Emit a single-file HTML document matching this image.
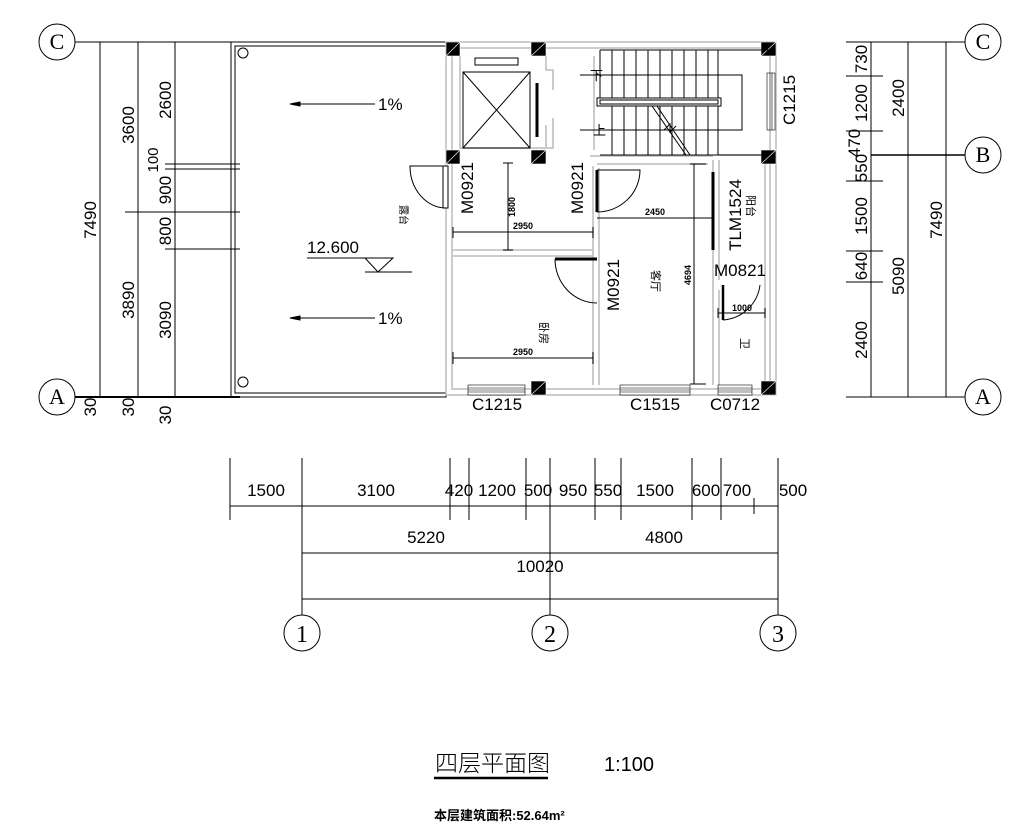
<!DOCTYPE html>
<html><head><meta charset="utf-8"><style>
html,body{margin:0;padding:0;background:#fff;}
svg{display:block;font-family:"Liberation Sans","Noto Sans CJK SC",sans-serif;}
</style></head><body>
<svg width="1017" height="825" viewBox="0 0 1017 825" xmlns="http://www.w3.org/2000/svg">
<g stroke="#000" stroke-width="1" fill="none">
<circle cx="57" cy="42" r="18"/><circle cx="57" cy="397" r="18"/>
<line x1="75" y1="42" x2="446" y2="42"/>
<line x1="75" y1="397" x2="240" y2="397" stroke-width="2"/>
<line x1="100" y1="42" x2="100" y2="397"/>
<line x1="138" y1="42" x2="138" y2="397"/>
<line x1="175" y1="42" x2="175" y2="397"/>
<line x1="165" y1="164" x2="240" y2="164"/>
<line x1="165" y1="169" x2="240" y2="169"/>
<line x1="125" y1="212" x2="240" y2="212"/>
<line x1="165" y1="249" x2="240" y2="249"/>
<rect x="231" y="42" width="215" height="355"/>
<rect x="235" y="46" width="211" height="347"/>
<circle cx="243" cy="53" r="5"/><circle cx="243" cy="382" r="5"/>
<line x1="290" y1="104" x2="375" y2="104"/><path d="M290 104 l10 -2 v4z" fill="#000"/>
<line x1="290" y1="318" x2="375" y2="318"/><path d="M290 318 l10 -2 v4z" fill="#000"/>
<line x1="307" y1="258" x2="393" y2="258"/>
<path d="M365 258 L393 258 L378 272 Z"/>
<line x1="365" y1="272" x2="412" y2="272"/>
</g>
<g font-size="17" fill="#000">
<text x="57" y="49" text-anchor="middle" font-family="Liberation Serif" font-size="22">C</text>
<text x="57" y="404" text-anchor="middle" font-family="Liberation Serif" font-size="22">A</text>
<text transform="translate(96,220) rotate(-90)" text-anchor="middle">7490</text>
<text transform="translate(134,125) rotate(-90)" text-anchor="middle">3600</text>
<text transform="translate(134,300) rotate(-90)" text-anchor="middle">3890</text>
<text transform="translate(171,100) rotate(-90)" text-anchor="middle">2600</text>
<text transform="translate(158,160) rotate(-90)" text-anchor="middle" font-size="15">100</text>
<text transform="translate(171,190) rotate(-90)" text-anchor="middle">900</text>
<text transform="translate(171,231) rotate(-90)" text-anchor="middle">800</text>
<text transform="translate(171,320) rotate(-90)" text-anchor="middle">3090</text>
<text transform="translate(96,407) rotate(-90)" text-anchor="middle">30</text>
<text transform="translate(134,407) rotate(-90)" text-anchor="middle">30</text>
<text transform="translate(171,415) rotate(-90)" text-anchor="middle">30</text>
<text x="378" y="110">1%</text><text x="378" y="324">1%</text>
<text x="307" y="253">12.600</text>
<text transform="translate(400,205) rotate(90)" font-size="10">露台</text>
</g>
<g stroke="#bbb" stroke-width="1.5" fill="none">
<path d="M446 42 H776 V395 H446 Z"/>
<path d="M452 48 H770 V389 H452 Z"/>
<path d="M460 56 V148 H546 V125 M546 56 V70 H553 V90 M553 118 V148 H546"/>
<path d="M594 56 V150 M590 156 H713 M597 164 H708"/>
<path d="M593 166 V385 M599 168 V385"/>
<path d="M452 250 H593 M452 256 H593"/>
<path d="M713 160 V385 M719 160 V280 M719 290 V385 M765 160 V385"/>
<path d="M719 155 H770"/>
</g>
<g fill="#000" stroke="#fff" stroke-width="0.6">
<rect x="446" y="42" width="14" height="14"/><path d="M446 56 L460 42"/>
<rect x="531" y="42" width="15" height="14"/><path d="M531 56 L546 42"/>
<rect x="761" y="42" width="15" height="14"/><path d="M761 56 L776 42"/>
<rect x="446" y="150" width="14" height="14"/><path d="M446 164 L460 150"/>
<rect x="531" y="150" width="15" height="14"/><path d="M531 164 L546 150"/>
<rect x="761" y="150" width="15" height="14"/><path d="M761 164 L776 150"/>
<rect x="531" y="381" width="15" height="14"/><path d="M531 395 L546 381"/>
<rect x="761" y="381" width="15" height="14"/><path d="M761 395 L776 381"/>
</g>
<g stroke="#000" stroke-width="1" fill="none">
<rect x="463" y="72" width="67" height="76"/>
<path d="M463 72 L530 148 M530 72 L463 148"/>
<rect x="475" y="58" width="43" height="7"/>
<line x1="537" y1="83" x2="537" y2="137" stroke-width="3"/>
<path d="M600 50 H770 M600 155 H770"/>
<path d="M600 50 V98 M612 50 V155 M624 50 V155 M636 50 V155 M648 50 V155 M660 50 V155 M672 50 V155 M684 50 V155 M696 50 V155 M708 50 V155 M718 50 V155"/>
<rect x="597" y="98" width="124" height="8" fill="#fff"/>
<rect x="600" y="100" width="118" height="4"/>
<path d="M580 75 H742 V130 H580"/>
<path d="M652 106 L686 155 M657 106 L690 155"/>
<path d="M664 130 l6 -6 l0 8 l6 -6"/>
<g stroke-width="0.6">
<rect x="767" y="73" width="8" height="57" fill="#fff"/>
<path d="M770 73 V130 M772 73 V130"/>
<rect x="468" y="385" width="57" height="10" fill="#fff"/><path d="M468 388 H525 M468 390 H525 M468 392 H525"/>
<rect x="620" y="385" width="70" height="10" fill="#fff"/><path d="M620 388 H690 M620 390 H690 M620 392 H690"/>
<rect x="718" y="385" width="34" height="10" fill="#fff"/><path d="M718 388 H752 M718 390 H752 M718 392 H752"/>
</g>
<rect x="443" y="166" width="5" height="42" fill="#fff"/>
<path d="M446 166 H410 A36 42 0 0 0 446 208"/>
<line x1="597" y1="170" x2="597" y2="212" stroke-width="3"/>
<path d="M597 170 H640 A43 42 0 0 1 597 212"/>
<line x1="555" y1="259" x2="597" y2="259" stroke-width="3"/>
<path d="M555 259 A42 44 0 0 0 597 303"/>
<line x1="713" y1="172" x2="713" y2="250" stroke-width="3"/>
<line x1="723" y1="285" x2="723" y2="320" stroke-width="2.5"/>
<path d="M760 285 A40 40 0 0 1 723 320"/>
<path d="M508 163 V250 M503 163 H513 M503 250 H513"/>
<path d="M453 232 H593 M453 227 V238 M593 227 V238"/>
<path d="M597 218 H713"/>
<path d="M694 164 V384 M690 164 H706 M690 384 H706"/>
<path d="M453 358 H593 M453 352 V364 M593 352 V364"/>
<path d="M718 313 H765 M718 308 V318 M765 308 V318"/>
</g>
<g fill="#000" font-size="17">
<text x="590" y="80" font-size="13">下</text>
<text x="593" y="135" font-size="13">上</text>
<text transform="translate(795,100) rotate(-90)" text-anchor="middle">C1215</text>
<text transform="translate(473,188) rotate(-90)" text-anchor="middle">M0921</text>
<text transform="translate(583,188) rotate(-90)" text-anchor="middle">M0921</text>
<text transform="translate(619,285) rotate(-90)" text-anchor="middle">M0921</text>
<text transform="translate(741,215) rotate(-90)" text-anchor="middle">TLM1524</text>
<text x="740" y="276" text-anchor="middle">M0821</text>
<text x="497" y="410" text-anchor="middle">C1215</text>
<text x="655" y="410" text-anchor="middle">C1515</text>
<text x="735" y="410" text-anchor="middle">C0712</text>
<g font-size="9" font-weight="bold">
<text transform="translate(515,207) rotate(-90)" text-anchor="middle">1800</text>
<text x="523" y="229" text-anchor="middle">2950</text>
<text x="655" y="215" text-anchor="middle">2450</text>
<text transform="translate(691,275) rotate(-90)" text-anchor="middle">4694</text>
<text x="523" y="355" text-anchor="middle">2950</text>
<text x="742" y="311" text-anchor="middle">1000</text>
</g>
<text transform="translate(652,270) rotate(90)" font-size="11">客厅</text>
<text transform="translate(540,322) rotate(90)" font-size="11">卧房</text>
<text transform="translate(741,338) rotate(90)" font-size="11">卫</text>
<text transform="translate(747,195) rotate(90)" font-size="11">阳台</text>
</g>
<g stroke="#000" stroke-width="1" fill="none">
<line x1="846" y1="42" x2="965" y2="42"/>
<line x1="871" y1="155" x2="965" y2="155" stroke-width="1.5"/>
<line x1="846" y1="397" x2="965" y2="397"/>
<line x1="871" y1="42" x2="871" y2="397"/>
<line x1="908" y1="42" x2="908" y2="397"/>
<line x1="946" y1="42" x2="946" y2="397"/>
<path d="M846 76 H883 M846 131 H883 M846 181 H883 M846 251 H883 M846 282 H883"/>
<circle cx="983" cy="42" r="18"/><circle cx="983" cy="155" r="18"/><circle cx="983" cy="397" r="18"/>
</g>
<g fill="#000" font-size="17">
<text x="983" y="49" text-anchor="middle" font-family="Liberation Serif" font-size="22">C</text>
<text x="983" y="162" text-anchor="middle" font-family="Liberation Serif" font-size="22">B</text>
<text x="983" y="404" text-anchor="middle" font-family="Liberation Serif" font-size="22">A</text>
<text transform="translate(867,59) rotate(-90)" text-anchor="middle">730</text>
<text transform="translate(867,103) rotate(-90)" text-anchor="middle">1200</text>
<text transform="translate(860,143) rotate(-90)" text-anchor="middle">470</text>
<text transform="translate(867,168) rotate(-90)" text-anchor="middle">550</text>
<text transform="translate(867,216) rotate(-90)" text-anchor="middle">1500</text>
<text transform="translate(867,266) rotate(-90)" text-anchor="middle">640</text>
<text transform="translate(867,340) rotate(-90)" text-anchor="middle">2400</text>
<text transform="translate(904,98) rotate(-90)" text-anchor="middle">2400</text>
<text transform="translate(904,276) rotate(-90)" text-anchor="middle">5090</text>
<text transform="translate(942,220) rotate(-90)" text-anchor="middle">7490</text>
</g>
<g stroke="#000" stroke-width="1" fill="none">
<line x1="230" y1="506" x2="778" y2="506"/>
<path d="M230 458 V520 M302 458 V520 M450 458 V520 M469 458 V520 M526 458 V520 M595 458 V520 M621 458 V520 M692 458 V520 M721 458 V520 M754 498 V514"/>
<line x1="302" y1="458" x2="302" y2="615"/>
<line x1="550" y1="458" x2="550" y2="615"/>
<line x1="778" y1="458" x2="778" y2="615"/>
<line x1="302" y1="553" x2="778" y2="553"/>
<line x1="302" y1="599" x2="778" y2="599"/>
<circle cx="302" cy="633" r="18"/><circle cx="550" cy="633" r="18"/><circle cx="778" cy="633" r="18"/>
</g>
<g fill="#000" font-size="17" text-anchor="middle">
<text x="266" y="496">1500</text><text x="376" y="496">3100</text><text x="459" y="496">420</text>
<text x="497" y="496">1200</text><text x="538" y="496">500</text><text x="573" y="496">950</text>
<text x="608" y="496">550</text><text x="655" y="496">1500</text><text x="706" y="496">600</text>
<text x="737" y="496">700</text><text x="793" y="496">500</text>
<text x="426" y="543">5220</text><text x="664" y="543">4800</text><text x="540" y="572">10020</text>
<g font-family="Liberation Serif" font-size="24"><text x="302" y="642">1</text><text x="550" y="642">2</text><text x="778" y="642">3</text></g>
</g>
<text x="435" y="771" font-size="23" fill="#000" font-family="'Noto Sans CJK SC',sans-serif" font-weight="300" letter-spacing="0">四层平面图</text>
<line x1="434" y1="778" x2="548" y2="778" stroke="#000" stroke-width="2.5"/>
<text x="604" y="771" font-size="20" fill="#000">1:100</text>
<text x="434" y="820" font-size="13" fill="#000" font-weight="bold">本层建筑面积:52.64m²</text>
</svg>
</body></html>
